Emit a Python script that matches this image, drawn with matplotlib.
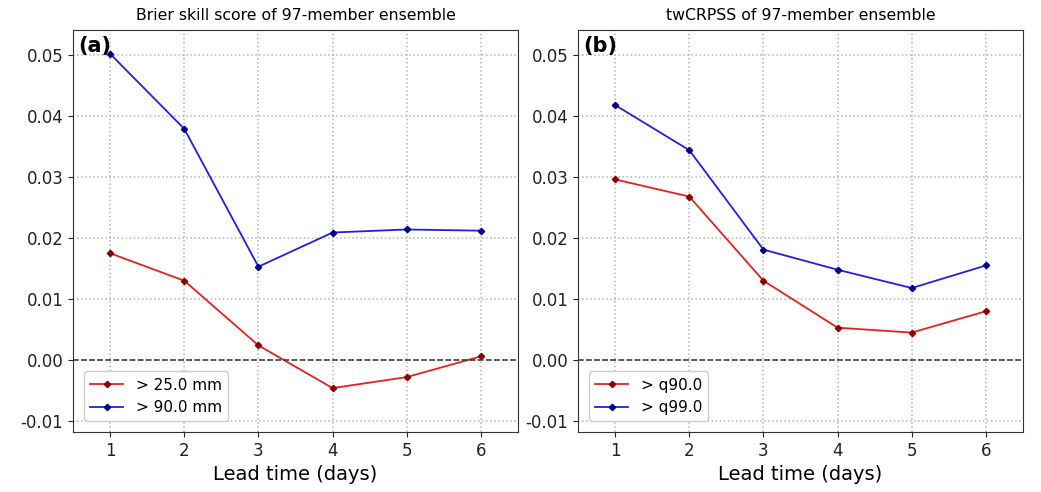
import matplotlib
matplotlib.use("Agg")
import matplotlib.pyplot as plt

lead_days = [1, 2, 3, 4, 5, 6]

bss_25mm = [0.0175, 0.0130, 0.0024, -0.0046, -0.0028, 0.0006]
bss_90mm = [0.0502, 0.0379, 0.0153, 0.0209, 0.0214, 0.0212]

crpss_q90 = [0.0296, 0.0268, 0.0130, 0.0053, 0.0045, 0.0080]
crpss_q99 = [0.0418, 0.0344, 0.0181, 0.0148, 0.0118, 0.0155]

titles = ["Brier skill score of 97-member ensemble", "twCRPSS of 97-member ensemble"]
panel_labels = ["(a)", "(b)"]
legend_a = ["> 25.0 mm", "> 90.0 mm"]
legend_b = ["> q90.0", "> q99.0"]

fig = plt.figure(figsize=(10.41, 4.92), dpi=100)
W, H = 1041, 492
axes = [fig.add_axes([73 / W, 1 - 432 / H, 445 / W, 402 / H]),
        fig.add_axes([578 / W, 1 - 432 / H, 445 / W, 402 / H])]

series = [(bss_25mm, bss_90mm, legend_a), (crpss_q90, crpss_q99, legend_b)]
yticks = [-0.01, 0.0, 0.01, 0.02, 0.03, 0.04, 0.05]

for ax, (r, b, leg), title, lab in zip(axes, series, titles, panel_labels):
    ax.plot(lead_days, r, color="#e8221b", lw=1.3, marker="D", markersize=3.2,
            markerfacecolor="#8b0000", markeredgecolor="#8b0000", label=leg[0])
    ax.plot(lead_days, b, color="#1f1fe6", lw=1.3, marker="D", markersize=3.2,
            markerfacecolor="#00008b", markeredgecolor="#00008b", label=leg[1])
    ax.axhline(0, color="#333333", lw=1.1, ls="--")
    ax.set_xlim(0.5, 6.5)
    ax.set_ylim(-0.0118, 0.0541)
    ax.set_xticks(lead_days)
    ax.set_yticks(yticks)
    ax.set_yticklabels([f"{v:.2f}" for v in yticks])
    ax.tick_params(labelsize=12, colors="#222222")
    ax.grid(True, ls=":", color="#b5b5b5", lw=1.1)
    ax.set_title(title, fontsize=11.3, pad=7)
    ax.set_xlabel("Lead time (days)", fontsize=14)
    ax.text(0.012, 0.985, lab, transform=ax.transAxes, fontsize=15,
            fontweight="bold", va="top", ha="left")
    for s in ax.spines.values():
        s.set_color("#333333")
    ax.legend(loc="lower left", fontsize=11, handlelength=2.2,
              borderaxespad=0.7, framealpha=1.0)

fig.savefig("out.png", dpi=100)
